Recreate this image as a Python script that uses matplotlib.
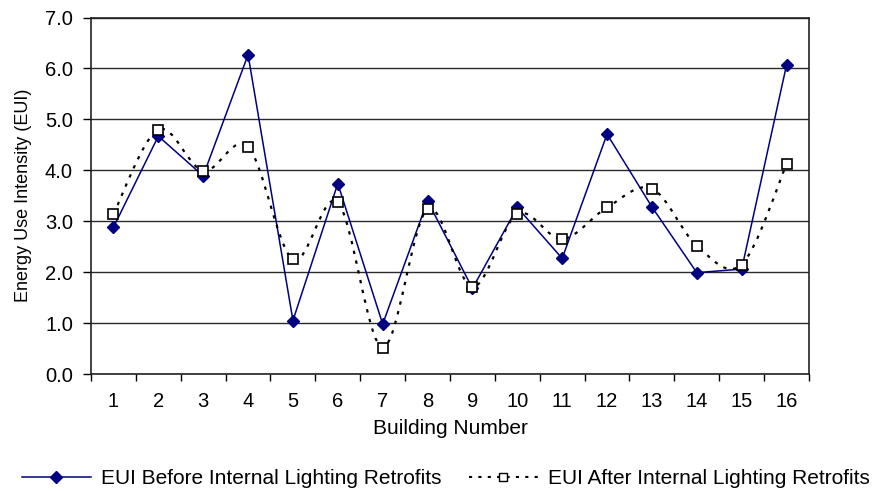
import matplotlib
matplotlib.use("Agg")
import matplotlib.pyplot as plt
import numpy as np
from matplotlib.path import Path
from matplotlib.patches import PathPatch
from matplotlib.lines import Line2D

plt.rcParams['font.family'] = ['Liberation Sans', 'DejaVu Sans']

buildings = [str(i) for i in range(1, 17)]
eui_before = [2.88, 4.67, 3.89, 6.27, 1.05, 3.74, 0.98, 3.40,
              1.68, 3.27, 2.27, 4.71, 3.28, 1.99, 2.06, 6.07]
eui_after = [3.14, 4.80, 3.99, 4.46, 2.25, 3.37, 0.52, 3.24,
             1.71, 3.14, 2.65, 3.27, 3.64, 2.52, 2.15, 4.12]
y_ticks = [0, 1, 2, 3, 4, 5, 6, 7]

navy = '#000080'

fig = plt.figure(figsize=(8.78, 4.91), dpi=100)
ax = fig.add_axes([91 / 878, 1 - 374 / 491, 718 / 878, (374 - 17.5) / 491])

x = np.arange(1, len(buildings) + 1)

# before: straight segments with diamond markers
ax.plot(x, eui_before, color=navy, lw=1.1, marker='D', ms=6.5,
        mfc=navy, mec=navy, zorder=3)


def smooth_path(xs, ys):
    """Bezier path through the points (Catmull-Rom style smoothing)."""
    pts = np.column_stack([xs, ys]).astype(float)
    n = len(pts)
    verts = [pts[0]]
    codes = [Path.MOVETO]
    for i in range(n - 1):
        p0 = pts[i - 1] if i > 0 else pts[i]
        p1 = pts[i]
        p2 = pts[i + 1]
        p3 = pts[i + 2] if i + 2 < n else pts[i + 1]
        c1 = p1 + (p2 - p0) / 6.0
        c2 = p2 - (p3 - p1) / 6.0
        verts += [c1, c2, p2]
        codes += [Path.CURVE4] * 3
    return Path(verts, codes)


# after: smoothed dotted curve with open square markers
ax.add_patch(PathPatch(smooth_path(x, eui_after), fill=False, ec='black',
                       lw=1.6, ls=(0, (1.5, 3)), zorder=4))
ax.plot(x, eui_after, ls='none', marker='s', ms=6.8, mfc='white',
        mec='black', mew=1.2, zorder=5)

ax.set_xlim(0.5, len(buildings) + 0.5)
ax.set_ylim(0, 7)
ax.set_yticks(y_ticks)
ax.set_yticklabels([f"{v:.1f}" for v in y_ticks])
ax.set_xticks(x)
ax.set_xticklabels(buildings)
ax.set_xticks(np.arange(0.5, len(buildings) + 1.0, 1.0), minor=True)
ax.tick_params(axis='x', which='major', length=0, pad=13, labelsize=14.5)
ax.tick_params(axis='x', which='minor', length=5, width=1)
ax.tick_params(axis='y', length=6, width=1, labelsize=14.5, pad=7)

ax.yaxis.grid(True, color='#2a2a2a', lw=1)
ax.set_axisbelow(True)
for s in ax.spines.values():
    s.set_color('#222222')
    s.set_linewidth(1.2)

ax.set_xlabel('Building Number', fontsize=15, labelpad=6)
ax.set_ylabel('Energy Use Intensity (EUI)', fontsize=13, labelpad=9)

handles = [
    Line2D([], [], color=navy, lw=1.1, marker='D', ms=6.5, mfc=navy, mec=navy),
    Line2D([], [], color='black', lw=1.5, ls=(0, (1.5, 3)), marker='s', ms=6,
           mfc='white', mec='black', mew=1.0),
]
fig.legend(handles, ['EUI Before Internal Lighting Retrofits',
                     'EUI After Internal Lighting Retrofits'],
           loc='center', bbox_to_anchor=(446 / 878, 1 - 479 / 491), ncol=2,
           frameon=False, fontsize=15, handlelength=3.3,
           columnspacing=1.3, handletextpad=0.5, borderpad=0,
           borderaxespad=0)

fig.savefig('out.png', dpi=100)
